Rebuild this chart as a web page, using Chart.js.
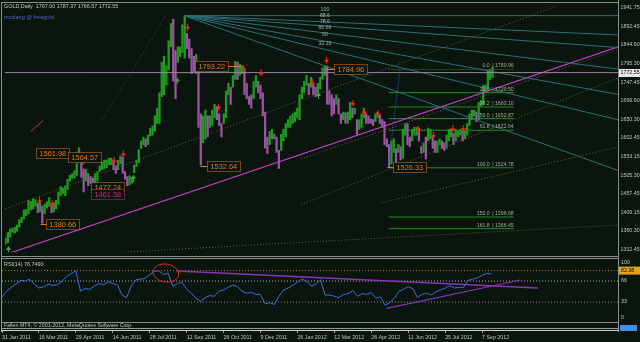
<!DOCTYPE html>
<html>
<head>
<meta charset="utf-8">
<script src="https://cdn.jsdelivr.net/npm/chart.js@4.4.1/dist/chart.umd.min.js"></script>
<style>
  html, body { margin: 0; padding: 0; background: #09150d; }
  #wrap { position: relative; width: 640px; height: 342px; overflow: hidden; background: #09150d; }
  canvas { position: absolute; left: 0; }
</style>
</head>
<body>
<div id="wrap">
  <canvas id="main" width="640" height="258" style="top:0"></canvas>
  <canvas id="rsi" width="640" height="65" style="top:258px"></canvas>
  <canvas id="foot" width="640" height="19" style="top:323px"></canvas>
</div>
<script>
// ---- data (x unit = trading day since 31 Jan 2011, one bar = 2 days) ----
const barLows = [
  1326,1330,1345,1357,1355,1360,1370,1382,1392,1400,1405,1415,1418,1425,1408,1410,1381,1405,1420,1425,
  1408,1410,1418,1430,1452,1458,1452,1468,1490,1498,1498,1505,1540,1500,1462,1490,1478,1484,1478,1485,
  1490,1515,1520,1522,1525,1533,1533,1520,1510,1520,1535,1510,1495,1478,1480,1485,1512,1528,1538,1575,
  1585,1580,1585,1608,1610,1620,1640,1640,1710,1715,1740,1780,1840,1750,1705,1800,1815,1825,1810,1835,
  1810,1770,1775,1770,1630,1532,1590,1600,1605,1630,1635,1655,1650,1635,1605,1640,1655,1715,1690,1735,
  1755,1755,1765,1770,1715,1705,1690,1680,1705,1735,1720,1705,1660,1576,1562,1585,1600,1600,1565,1523,
  1570,1595,1605,1630,1630,1640,1645,1655,1650,1705,1720,1740,1715,1735,1715,1710,1720,1730,1755,1765,
  1690,1690,1660,1665,1690,1665,1640,1650,1640,1640,1650,1655,1665,1612,1625,1630,1655,1640,1640,1640,
  1635,1645,1655,1640,1630,1585,1580,1527,1535,1565,1535,1565,1545,1550,1610,1585,1580,1595,1610,1610,
  1595,1562,1565,1548,1595,1600,1575,1565,1565,1585,1575,1570,1575,1595,1605,1585,1595,1605,1610,1595,
  1600,1610,1635,1650,1660,1645,1650,1685,1690,1725,1730,1755,1760
];
const barHighs = [
  1342,1356,1366,1368,1370,1376,1390,1396,1415,1417,1440,1437,1444,1442,1432,1432,1425,1430,1436,1447,
  1428,1434,1440,1462,1476,1472,1478,1495,1505,1510,1517,1536,1577,1550,1522,1520,1510,1502,1498,1510,
  1515,1530,1540,1545,1545,1550,1550,1545,1530,1544,1555,1552,1515,1502,1504,1500,1532,1545,1572,1595,
  1605,1600,1610,1628,1634,1660,1680,1720,1800,1815,1790,1855,1900,1912,1830,1840,1840,1897,1921,1875,
  1860,1835,1815,1820,1790,1665,1660,1675,1660,1660,1675,1690,1685,1665,1640,1665,1725,1745,1735,1765,
  1802,1800,1795,1790,1780,1745,1710,1715,1750,1765,1750,1740,1720,1670,1605,1620,1625,1612,1605,1570,
  1612,1625,1640,1650,1660,1665,1670,1680,1715,1735,1750,1765,1745,1760,1742,1735,1745,1760,1785,1790,
  1790,1725,1715,1705,1715,1705,1665,1670,1668,1670,1695,1680,1680,1650,1650,1665,1680,1665,1660,1652,
  1650,1665,1670,1662,1650,1645,1600,1585,1595,1600,1575,1585,1580,1625,1640,1640,1605,1625,1630,1630,
  1628,1580,1590,1605,1628,1625,1610,1595,1595,1600,1595,1590,1610,1625,1625,1615,1625,1620,1625,1620,
  1620,1640,1665,1675,1675,1670,1695,1700,1740,1740,1777,1780,1787
];
// RSI(14), one value every 4 trading days
const rsiValues = [
  41,50,56,61,67,66,69,61,55,57,61,59,60,66,73,78,82,50,54,53,
  58,62,60,65,62,60,44,40,58,68,69,70,76,81,82,76,78,58,62,64,
  53,47,39,34,40,43,42,50,52,56,60,57,50,47,48,45,45,30,32,29,
  42,52,55,59,64,69,66,58,61,68,44,44,42,40,45,46,51,42,46,45,
  48,39,41,28,32,39,50,53,57,54,40,45,47,44,49,52,55,59,55,56,
  56,67,69,71,75,78,77
];
const priceTicks = [1941.75,1892.45,1844.60,1795.30,1747.45,1699.60,1650.30,1602.45,1553.15,1505.30,1457.45,1409.15,1360.30,1312.45];
const dateLabels = ['31 Jan 2011','16 Mar 2011','29 Apr 2011','14 Jun 2011','28 Jul 2011','12 Sep 2011','26 Oct 2011',
  '9 Dec 2011','26 Jan 2012','12 Mar 2012','26 Apr 2012','11 Jun 2012','25 Jul 2012','7 Sep 2012'];
const dateIdx = [0,32,64,96,128,160,192,224,256,288,320,352,384,416];

// fractal arrows [index, price]
const fractalHighs = [[30,1439],[41,1432],[68,1541],[95,1543],[103,1561],[159,1891],[208,1784],[223,1772],[186,1683],
  [268,1746],[280,1805],[303,1693],[313,1670],[325,1665],[360,1624],[373,1609],[390,1627],[399,1627]];
const fractalLows = [[3,1312],[112,1498],[150,1751],[273,1713]];

// drawn objects [index, price]
const upTrend = [[0,1298.5],[534,1840]];
const fanTop = [156,1920.9];
const fanEnds = [1920.9,1870.7,1837.7,1781.9,1715.9,1649.9,1518.0];
const fanLabels = ['100','88.6','78.6','66.66','50','33.33'];
const fanLabelPrices = [1936.6,1921.4,1906.2,1891.0,1870.7,1847.9];
const dottedLines = [
  [[0,1418],[488,1954]],
  [[258,1548],[534,1833]],
  [[258,1429],[534,1759]],
  [[328,1434],[534,1579]],
  [[102,1305],[534,1376]]
];
const redDotted = [[85,1650],[140,1921]];
const shortMagenta = [[22.5,1619.5],[33,1647.4]];
const fibTrend = [[333.6,1524.78],[344,1780.96]];
const fibNames = ['0.0','23.6','38.2','50.0','61.8','100.0','150.0','161.8'];
const fibPrices = [1780.96,1720.50,1683.10,1652.87,1622.64,1524.78,1396.68,1366.45];
const fibFrom = 334, fibTo = 443;
const lastPrice = 1772.55;
const priceTags = [
  ['1561.98',26.9,1563.6,null,'#e07a1c'],
  ['1564.57',54.6,1553.5,null,'#e07a1c'],
  ['1477.24',74.5,1474.8,null,'#e07a1c'],
  ['1461.58',74.5,1455.8,null,'#c8307a'],
  ['1380.66',35.5,1378.4,31,'#e07a1c'],
  ['1793.22',165.5,1790.7,206,'#e07a1c'],
  ['1532.64',176,1530.6,170,'#e07a1c'],
  ['1784.96',286.8,1781.9,278,'#e07a1c'],
  ['1526.33',338,1525.6,333,'#e07a1c']
];
const rsiDown = [[151.6,81.7],[464.5,55]];
const rsiUp = [[333.3,23],[449,67.6]];
const rsiLevels = [66,33,82.38];

const FONT = "'Liberation Sans', Arial, sans-serif";
const X_MAX = 533.8;

function arrowImg(color, up) {
  const c = document.createElement('canvas');
  c.width = 5; c.height = 7;
  const g = c.getContext('2d');
  g.fillStyle = color;
  if (up) {
    g.fillRect(2, 3, 1, 4);
    g.beginPath(); g.moveTo(0, 4); g.lineTo(5, 4); g.lineTo(2.5, 0); g.fill();
  } else {
    g.fillRect(2, 0, 1, 4);
    g.beginPath(); g.moveTo(0, 3); g.lineTo(5, 3); g.lineTo(2.5, 7); g.fill();
  }
  return c;
}

function seg(pts, color, dash, width, order) {
  return {
    type: 'line', data: pts.map(p => ({ x: p[0], y: p[1] })),
    borderColor: color, borderWidth: width || 1, borderDash: dash || [],
    pointRadius: 0, tension: 0, fill: false, order: order == null ? 1 : order
  };
}

function txt(ctx, s, x, y, color, size, align, base) {
  ctx.font = size + 'px ' + FONT;
  ctx.fillStyle = color;
  ctx.textAlign = align || 'left';
  ctx.textBaseline = base || 'middle';
  ctx.fillText(s, x, y);
}

function hline(ctx, x1, x2, y, color) {
  ctx.strokeStyle = color; ctx.lineWidth = 1; ctx.setLineDash([]);
  ctx.beginPath(); ctx.moveTo(x1, y); ctx.lineTo(x2, y); ctx.stroke();
}
function vline(ctx, x, y1, y2, color) {
  ctx.strokeStyle = color; ctx.lineWidth = 1; ctx.setLineDash([]);
  ctx.beginPath(); ctx.moveTo(x, y1); ctx.lineTo(x, y2); ctx.stroke();
}

// ---- main price chart ----
const bull = '#1f9c1f', bear = '#9c54a4';
const barColors = barLows.map((lo, j) => {
  if (j === 0) return bull;
  const mid = (lo + barHighs[j]) / 2, prev = (barLows[j - 1] + barHighs[j - 1]) / 2;
  return mid >= prev ? bull : bear;
});

const mainSets = [];
mainSets.push({
  type: 'bar',
  data: barLows.map((lo, j) => ({ x: j * 2 + 0.5, y: [lo, barHighs[j]] })),
  backgroundColor: barColors, barThickness: 1.6, order: 2
});
fibPrices.forEach((p, i) => {
  mainSets.push(seg([[fibFrom, p], [fibTo, p]], '#1f8f1f', i === 0 ? [1, 1] : [], 1, 3));
});
mainSets.push(seg(fibTrend, '#3050d8', [1, 1], 1, 1));
mainSets.push(seg([[0, lastPrice], [X_MAX, lastPrice]], '#9a86a0', [], 1, 1));
fanEnds.forEach(p => mainSets.push(seg([fanTop, [X_MAX, p]], '#2f6f7a', [], 1, 1)));
dottedLines.forEach(l => mainSets.push(seg(l, '#666630', [1, 2], 1, 1)));
mainSets.push(seg(redDotted, '#703430', [1, 2], 1, 1));
mainSets.push(seg(shortMagenta, '#c03070', [], 1, 1));
mainSets.push(seg(upTrend, '#c23ec4', [], 1.2, 1));
mainSets.push({
  type: 'line', showLine: false, data: fractalHighs.map(p => ({ x: p[0], y: p[1] })),
  pointStyle: arrowImg('#ff2020', false), pointRadius: 3, order: 0
});
mainSets.push({
  type: 'line', showLine: false, data: fractalLows.map(p => ({ x: p[0], y: p[1] })),
  pointStyle: arrowImg('#4aa84a', true), pointRadius: 3, order: 0
});

const mainDecor = {
  id: 'mainDecor',
  afterDraw(chart) {
    const ctx = chart.ctx, xs = chart.scales.x, ys = chart.scales.y;
    ctx.save();
    // frame
    hline(ctx, 1, 619, 2.5, '#8c8c8c');
    vline(ctx, 1.5, 2, 258, '#8c8c8c');
    vline(ctx, 618.5, 0, 258, '#8c8c8c');
    hline(ctx, 1, 619, 256.5, '#8c8c8c');
    // header
    txt(ctx, 'GOLD,Daily  1767.00 1787.37 1766.57 1772.55', 4, 6.5, '#c8c8c8', 5.4);
    txt(ctx, 'mcclang @ freegold', 4, 17.5, '#4f6cd0', 5.6);
    // fan labels
    fanLabels.forEach((s, i) => {
      txt(ctx, s, xs.getPixelForValue(278.6), ys.getPixelForValue(fanLabelPrices[i]), '#a6b0b8', 5.2, 'center');
    });
    // fib labels
    fibNames.forEach((s, i) => {
      const y = ys.getPixelForValue(fibPrices[i]) - 3.5;
      const xr = xs.getPixelForValue(fibTo);
      txt(ctx, '| ' + fibPrices[i].toFixed(2), xr, y, '#9fb090', 5.2, 'right');
      txt(ctx, s, xr - 24, y, '#9fb090', 5.2, 'right');
    });
    // price tags
    ctx.font = '7.4px ' + FONT;
    priceTags.forEach(t => {
      const [s, idx, price, anchor, color] = t;
      const left = Math.round(xs.getPixelForValue(idx)) + 0.5;
      const cy = Math.round(ys.getPixelForValue(price));
      const w = Math.round(ctx.measureText(s).width) + 6, h = 10;
      const top = cy - 5 + 0.5;
      ctx.fillStyle = '#09150d';
      ctx.fillRect(left, top, w, h);
      ctx.strokeStyle = color; ctx.lineWidth = 1; ctx.setLineDash([1, 1]);
      ctx.strokeRect(left, top, w, h);
      ctx.setLineDash([]);
      if (anchor != null) {
        const ax = xs.getPixelForValue(anchor);
        const ex = ax < left ? left : left + w;
        hline(ctx, ax, ex, cy + 0.5, color);
      }
      txt(ctx, s, left + 3, cy + 0.5, color, 7.4);
    });
    // last price tag
    ctx.fillStyle = '#e8e8e8';
    const ly = Math.round(ys.getPixelForValue(lastPrice));
    ctx.fillRect(619, ly - 4, 21, 8);
    txt(ctx, lastPrice.toFixed(2), 620.5, ly, '#000000', 5.3);
    ctx.restore();
  }
};

new Chart(document.getElementById('main'), {
  type: 'bar',
  data: { datasets: mainSets },
  options: {
    responsive: false, animation: false, events: [],
    layout: { padding: { left: 2, top: 3, right: 0, bottom: 2 } },
    plugins: { legend: { display: false }, tooltip: { enabled: false } },
    scales: {
      x: { type: 'linear', min: 0, max: X_MAX, bounds: 'data', offset: false, grid: { offset: false }, display: false },
      y: {
        position: 'right', min: 1304.8, max: 1946.8, bounds: 'data',
        grid: { display: false, drawTicks: false }, border: { display: false },
        afterFit: s => { s.width = 22; },
        afterBuildTicks: s => { s.ticks = priceTicks.map(v => ({ value: v })); },
        ticks: { autoSkip: false, padding: 2.5, color: '#c4c4c4', font: { family: FONT, size: 5.3 },
          callback: v => Number(v).toFixed(2) }
      }
    }
  },
  plugins: [mainDecor]
});

// ---- RSI panel ----
const rsiSets = [
  { data: rsiValues.map((v, i) => ({ x: i * 4, y: v })), borderColor: '#3a6ee0', borderWidth: 1,
    pointRadius: 0, tension: 0, order: 0 },
  seg([[0, rsiLevels[0]], [X_MAX, rsiLevels[0]]], '#b4b4b4', [1, 2], 1, 2),
  seg([[0, rsiLevels[1]], [X_MAX, rsiLevels[1]]], '#8c8c8c', [1, 2], 1, 2),
  seg([[0, rsiLevels[2]], [X_MAX, rsiLevels[2]]], '#c86e20', [1, 2], 1, 2),
  seg(rsiDown, '#8a34b8', [], 1.5, 1),
  seg(rsiUp, '#8a34b8', [], 1.2, 1)
];

const rsiDecor = {
  id: 'rsiDecor',
  afterDraw(chart) {
    const ctx = chart.ctx, xs = chart.scales.x, ys = chart.scales.y;
    ctx.save();
    hline(ctx, 1, 619, 0.5, '#8c8c8c');
    vline(ctx, 1.5, 0, 65, '#8c8c8c');
    vline(ctx, 618.5, 0, 65, '#8c8c8c');
    hline(ctx, 1, 619, 64.5, '#8c8c8c');
    txt(ctx, 'RSI(14) 76.7490', 4, 7, '#c8c8c8', 5.4);
    [100, 66, 33, 0].forEach(v => {
      const y = Math.min(60, Math.max(5, ys.getPixelForValue(v)));
      txt(ctx, String(v), 621, y, '#c4c4c4', 5.3);
    });
    const ty = ys.getPixelForValue(rsiLevels[2]);
    ctx.fillStyle = '#e8a024';
    ctx.fillRect(619, ty - 4, 21, 8);
    txt(ctx, '82.38', 621, ty, '#000000', 5.3);
    // circled divergence
    const cx = xs.getPixelForValue(142), cy = ys.getPixelForValue(78.6);
    const rx = xs.getPixelForValue(153.3) - cx, ry = ys.getPixelForValue(64.4) - cy;
    ctx.strokeStyle = '#e02424'; ctx.lineWidth = 1;
    ctx.beginPath(); ctx.ellipse(cx, cy, rx, Math.abs(ry), 0.15, 0, Math.PI * 2); ctx.stroke();
    ctx.restore();
  }
};

new Chart(document.getElementById('rsi'), {
  type: 'line',
  data: { datasets: rsiSets },
  options: {
    responsive: false, animation: false, events: [],
    layout: { padding: { left: 2, top: 1.4, right: 0, bottom: 0 } },
    plugins: { legend: { display: false }, tooltip: { enabled: false } },
    scales: {
      x: { type: 'linear', min: 0, max: X_MAX, bounds: 'data', display: false },
      y: { position: 'right', min: 0, max: 100, bounds: 'data', grid: { display: false, drawTicks: false },
        border: { display: false }, ticks: { display: false }, afterFit: s => { s.width = 22; } }
    }
  },
  plugins: [rsiDecor]
});

// ---- bottom strip + date axis ----
const footDecor = {
  id: 'footDecor',
  afterDraw(chart) {
    const ctx = chart.ctx;
    ctx.save();
    vline(ctx, 1.5, 0, 9, '#8c8c8c');
    vline(ctx, 618.5, 0, 9, '#8c8c8c');
    txt(ctx, 'Fallen MT4, \u00a9 2001-2012, MetaQuotes Software Corp.', 4, 3, '#c0c0c0', 5.3);
    hline(ctx, 1, 619, 5.5, '#9a9a9a');
    hline(ctx, 1, 619, 7.5, '#d0d0d0');
    ctx.fillStyle = '#3c92e4';
    ctx.fillRect(620, 2, 17, 6);
    ctx.restore();
  }
};

new Chart(document.getElementById('foot'), {
  type: 'line',
  data: { datasets: [{ data: [] }] },
  options: {
    responsive: false, animation: false, events: [],
    layout: { padding: { left: 2, top: 1, right: 22, bottom: 0 } },
    plugins: { legend: { display: false }, tooltip: { enabled: false } },
    scales: {
      x: {
        type: 'linear', min: 0, max: X_MAX, bounds: 'data',
        afterFit: s => { s.height = 11; },
        afterBuildTicks: s => { s.ticks = dateIdx.map(v => ({ value: v })); },
        grid: { display: true, drawOnChartArea: false, drawTicks: true, tickLength: 2, color: '#a0a0a0' },
        border: { display: false },
        ticks: { align: 'start', autoSkip: false, maxRotation: 0, padding: 1, color: '#c4c4c4',
          font: { family: FONT, size: 5.3 }, callback: (v, i) => dateLabels[i] }
      },
      y: { display: false, min: 0, max: 1 }
    }
  },
  plugins: [footDecor]
});
</script>
</body>
</html>
